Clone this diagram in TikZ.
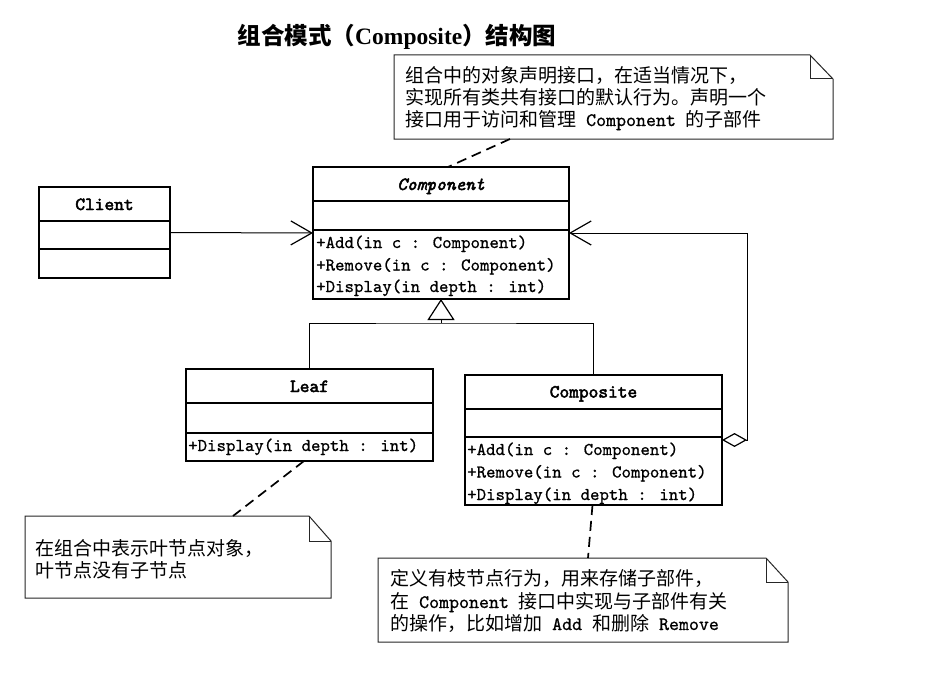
\documentclass[tikz,border=0pt]{standalone}
\usepackage{fontspec}
\newfontfamily\cjk{Noto Sans CJK SC}
\newfontfamily\titleserif{Liberation Serif}
\newfontfamily\monoreg{lmmono10-regular.otf}[FakeBold=0.8]
\newfontfamily\monobold{lmmono10-regular.otf}[FakeBold=2.6]
\newfontfamily\monoboldit{lmmono10-italic.otf}[FakeBold=2.6]
\usetikzlibrary{arrows.meta,calc}
\tikzset{
  umlbox/.style={draw=black, line width=1.3pt, inner sep=0pt, outer sep=0pt},
  rowline/.style={draw=black, line width=1.3pt},
  clsname/.style={anchor=base, inner sep=0pt, font=\fontsize{18.5}{22}\selectfont\monobold},
  method/.style={anchor=base west, inner sep=0pt, font=\fontsize{18}{22}\selectfont\monoreg},
  noteshape/.style={inner sep=0pt, outer sep=0pt},
  noteline/.style={draw=black!85, line width=1pt},
  notetext/.style={anchor=base west, inner sep=0pt, font=\fontsize{19}{22}\selectfont\cjk},
  dashconn/.style={draw=black, line width=1.7pt, dash pattern=on 10pt off 6pt},
  assoc/.style={draw=black, line width=1pt, -{Straight Barb[length=21pt,width=24pt,line width=1.2pt]}},
  genline/.style={draw=black, line width=1pt},
}
\newcommand\Ltt[1]{{\fontsize{19}{22}\selectfont\monoreg #1}}
\begin{document}
\begin{tikzpicture}[x=1pt,y=-1pt]
\useasboundingbox (0,0) rectangle (927,677);
\fill[white] (0,0) rectangle (927,677);

% title
\node[anchor=base, inner sep=0pt, font=\fontsize{23.5}{28}\selectfont\cjk\bfseries] (title) at (397,45)
  {组合模式（{\titleserif\bfseries Composite}）结构图};

% ---------- Client ----------
\node[umlbox, minimum width=131pt, minimum height=91pt] (client) at (104.5,232.5) {};
\draw[rowline] ($(client.north west)+(0,34)$) -- ($(client.north east)+(0,34)$);
\draw[rowline] ($(client.north west)+(0,62)$) -- ($(client.north east)+(0,62)$);
\node[clsname] (clientname) at (104.5,210) {Client};

% ---------- Component ----------
\node[umlbox, minimum width=256pt, minimum height=132pt] (comp) at (441,233) {};
\draw[rowline] ($(comp.north west)+(0,34)$) -- ($(comp.north east)+(0,34)$);
\draw[rowline] ($(comp.north west)+(0,63)$) -- ($(comp.north east)+(0,63)$);
\node[clsname, font=\fontsize{18.5}{22}\selectfont\monoboldit] (compname) at (441,190) {Component};
\node[method] (compm1) at (316,248) {+Add(in c : Component)};
\node[method] (compm2) at (316,270.5) {+Remove(in c : Component)};
\node[method] (compm3) at (316,292) {+Display(in depth : int)};

% ---------- Leaf ----------
\node[umlbox, minimum width=247pt, minimum height=92pt] (leaf) at (309.5,415) {};
\draw[rowline] ($(leaf.north west)+(0,34)$) -- ($(leaf.north east)+(0,34)$);
\draw[rowline] ($(leaf.north west)+(0,64)$) -- ($(leaf.north east)+(0,64)$);
\node[clsname] (leafname) at (309.5,392) {Leaf};
\node[method] (leafm1) at (188,451) {+Display(in depth : int)};

% ---------- Composite ----------
\node[umlbox, minimum width=257pt, minimum height=130pt] (composite) at (593.5,440) {};
\draw[rowline] ($(composite.north west)+(0,34)$) -- ($(composite.north east)+(0,34)$);
\draw[rowline] ($(composite.north west)+(0,62)$) -- ($(composite.north east)+(0,62)$);
\node[clsname] (compositename) at (593.5,397.5) {Composite};
\node[method] (compositem1) at (467,455) {+Add(in c : Component)};
\node[method] (compositem2) at (467,477.5) {+Remove(in c : Component)};
\node[method] (compositem3) at (467,500) {+Display(in depth : int)};

% ---------- Notes ----------
\node[noteshape, minimum width=439pt, minimum height=84pt] (note1) at (613.5,97) {};
\draw[noteline] (note1.south west) -- (note1.north west) -- ($(note1.north east)+(-23,0)$)
  -- ($(note1.north east)+(0,24)$) -- (note1.south east) -- cycle;
\draw[noteline] ($(note1.north east)+(-23,0)$) -- ($(note1.north east)+(-23,24)$) -- ($(note1.north east)+(0,24)$);
\node[notetext] (note1a) at (405,82) {组合中的对象声明接口，在适当情况下，};
\node[notetext] (note1b) at (405,104) {实现所有类共有接口的默认行为。声明一个};
\node[notetext] (note1c) at (405,126) {接口用于访问和管理\Ltt{\ Component\ }的子部件};

\node[noteshape, minimum width=306pt, minimum height=82pt] (note2) at (178,557) {};
\draw[noteline] (note2.south west) -- (note2.north west) -- ($(note2.north east)+(-22,0)$)
  -- ($(note2.north east)+(0,25)$) -- (note2.south east) -- cycle;
\draw[noteline] ($(note2.north east)+(-22,0)$) -- ($(note2.north east)+(-22,25)$) -- ($(note2.north east)+(0,25)$);
\node[notetext] (note2a) at (35,555) {在组合中表示叶节点对象，};
\node[notetext] (note2b) at (35,577) {叶节点没有子节点};

\node[noteshape, minimum width=410pt, minimum height=84pt] (note3) at (583,600) {};
\draw[noteline] (note3.south west) -- (note3.north west) -- ($(note3.north east)+(-22,0)$)
  -- ($(note3.north east)+(0,24)$) -- (note3.south east) -- cycle;
\draw[noteline] ($(note3.north east)+(-22,0)$) -- ($(note3.north east)+(-22,24)$) -- ($(note3.north east)+(0,24)$);
\node[notetext] (note3a) at (390,585) {定义有枝节点行为，用来存储子部件，};
\node[notetext] (note3b) at (390,608) {在\Ltt{\ Component\ }接口中实现与子部件有关};
\node[notetext] (note3c) at (390,630) {的操作，比如增加\Ltt{\ Add\ }和删除\Ltt{\ Remove}};

% ---------- Connectors ----------
\draw[assoc] (client.east) -- (comp.west);

\coordinate (hbar) at (441,323);
\draw[genline] (leaf.north) |- (hbar) -| (composite.north);
\draw[genline, -{Triangle[open,length=21pt,width=27pt,line width=1.2pt]}] (hbar) -- (comp.south);

\draw[draw=black, line width=1pt,
  {Diamond[open,length=25pt,width=14pt,line width=1.2pt]}-{Straight Barb[length=21pt,width=24pt,line width=1.2pt]}]
  (composite.east) -- ++(25,0) |- (comp.east);

\draw[dashconn] ($(note1.south west)+(116,0)$) -- ($(comp.north)+(7,0)$);
\draw[dashconn] ($(leaf.south west)+(118,0)$) -- ($(note2.north west)+(208,0)$);
\draw[dashconn] ($(composite.south)+(-1,0)$) -- ($(note3.north west)+(210,0)$);
\end{tikzpicture}
\end{document}
